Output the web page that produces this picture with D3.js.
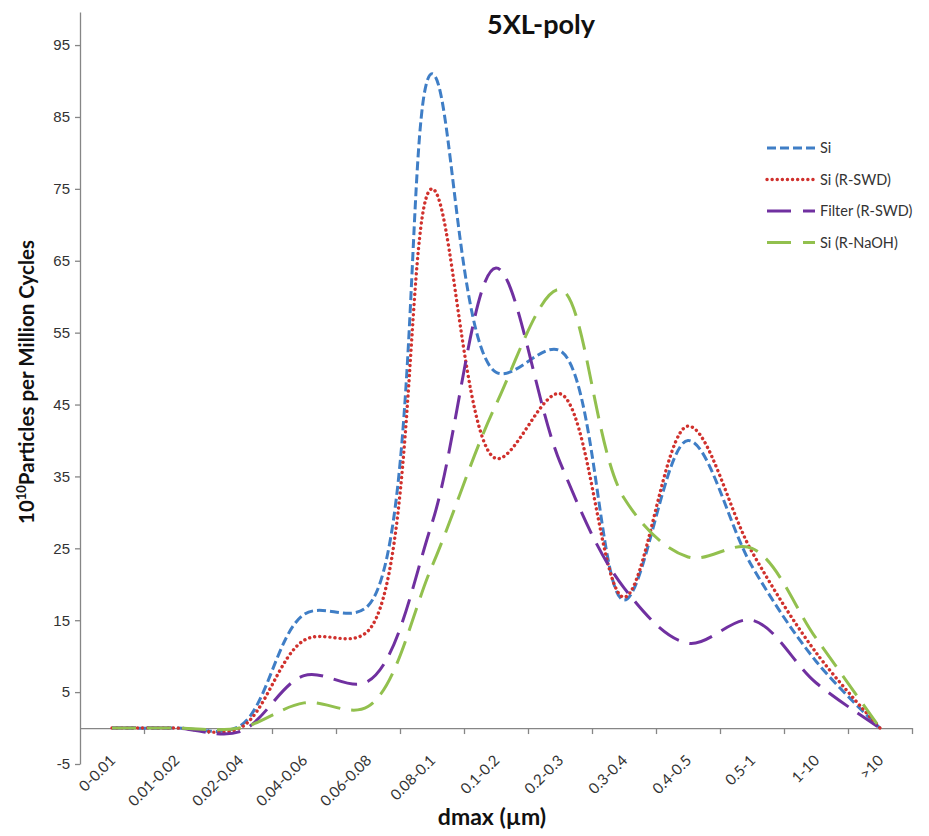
<!DOCTYPE html>
<html>
<head>
<meta charset="utf-8">
<script src="https://cdn.jsdelivr.net/npm/d3@7"></script>
<style>
  body { margin: 0; background: #fff; }
  svg { font-family: Lato, "Open Sans", sans-serif; }
</style>
</head>
<body>
<div id="chart"></div>
<script>
var categories = ['0-0.01', '0.01-0.02', '0.02-0.04', '0.04-0.06', '0.06-0.08', '0.08-0.1',
                  '0.1-0.2', '0.2-0.3', '0.3-0.4', '0.4-0.5', '0.5-1', '1-10', '>10'];
var yTicks = [-5, 5, 15, 25, 35, 45, 55, 65, 75, 85, 95];
var seriesNames = ['Si', 'Si (R-SWD)', 'Filter (R-SWD)', 'Si (R-NaOH)'];
var si       = [0, 0, 0.3, 15.8, 17, 91, 49.5, 52.5, 17.8, 40, 22.5, 9.3, 0];
var siSwd    = [0, 0, 0, 12.2, 13.5, 75, 37.5, 46.5, 18.2, 42, 24.5, 10.5, 0];
var filterSwd = [0, 0, -0.5, 7.3, 6.5, 28.5, 64, 37, 19.5, 11.8, 15, 6.3, 0];
var siNaoh   = [0, 0, 0, 3.5, 3, 22.5, 45, 61, 32, 23.8, 25, 12.5, 0];

var width = 929, height = 836;
var margin = { top: 12, right: 17, bottom: 72, left: 80 };

var svg = d3.select("#chart").append("svg")
  .attr("width", width)
  .attr("height", height);

var x = d3.scaleBand()
  .domain(categories)
  .range([margin.left, width - margin.right]);
var xEdge = d3.scaleLinear()
  .domain([0, categories.length])
  .range([margin.left, width - margin.right]);
var y = d3.scaleLinear()
  .domain([-5, 99.6])
  .range([height - margin.bottom, margin.top]);

// y axis
var yAxis = d3.axisLeft(y)
  .tickValues(yTicks)
  .tickFormat(function(d) { return String(d); })
  .tickSizeInner(5)
  .tickSizeOuter(0)
  .tickPadding(5);
var gy = svg.append("g")
  .attr("transform", "translate(" + margin.left + ",0)")
  .call(yAxis);
gy.selectAll("path, line").attr("stroke", "#868686").attr("stroke-width", 1.3);
gy.selectAll("text").attr("font-size", 15).attr("fill", "#333");

// x axis line sits at zero, ticks between categories
var xAxis = d3.axisBottom(xEdge)
  .tickValues(d3.range(1, categories.length + 1))
  .tickFormat("")
  .tickSizeInner(6)
  .tickSizeOuter(0);
var gx = svg.append("g")
  .attr("transform", "translate(0," + y(0) + ")")
  .call(xAxis);
gx.selectAll("path, line").attr("stroke", "#868686").attr("stroke-width", 1.3);

// category labels, rotated, below the plot
svg.append("g")
  .selectAll("text")
  .data(categories)
  .enter()
  .append("text")
  .attr("transform", function(d) {
    return "translate(" + (x(d) + x.bandwidth() / 2 - 3) + "," + (y(-5) - 10) + ") rotate(-45)";
  })
  .attr("text-anchor", "end")
  .attr("dy", "0.7em")
  .attr("font-size", 15)
  .attr("fill", "#333")
  .text(function(d) { return d; });

// series
var series = [
  { name: seriesNames[0], values: si, color: "#3f7ec6", dash: "9,4", cap: "butt" },
  { name: seriesNames[1], values: siSwd, color: "#d0312d", dash: "0.1,5", cap: "round" },
  { name: seriesNames[2], values: filterSwd, color: "#7030a0", dash: "24,11", cap: "butt" },
  { name: seriesNames[3], values: siNaoh, color: "#92c04e", dash: "24,11", cap: "butt" }
];

var line = d3.line()
  .x(function(d, i) { return x(categories[i]) + x.bandwidth() / 2; })
  .y(function(d) { return y(d); })
  .curve(d3.curveCatmullRom.alpha(0.5));

svg.append("g")
  .selectAll("path")
  .data(series)
  .enter()
  .append("path")
  .attr("fill", "none")
  .attr("stroke", function(d) { return d.color; })
  .attr("stroke-width", function(d) { return d.cap === "round" ? 3.4 : 3; })
  .attr("stroke-dasharray", function(d) { return d.dash; })
  .attr("stroke-linecap", function(d) { return d.cap; })
  .attr("d", function(d) { return line(d.values); });

// legend
var legend = svg.append("g")
  .selectAll("g")
  .data(series)
  .enter()
  .append("g")
  .attr("transform", function(d, i) { return "translate(767," + (148 + i * 31.5) + ")"; });
legend.append("line")
  .attr("x1", 0).attr("x2", 48)
  .attr("stroke", function(d) { return d.color; })
  .attr("stroke-width", function(d) { return d.cap === "round" ? 3.4 : 3; })
  .attr("stroke-dasharray", function(d, i) { return i >= 2 ? "24,12" : d.dash; })
  .attr("stroke-linecap", function(d) { return d.cap; });
legend.append("text")
  .attr("x", 53)
  .attr("dy", "0.35em")
  .attr("font-size", 14.5)
  .attr("fill", "#333")
  .text(function(d) { return d.name; });

// titles
svg.append("text")
  .attr("x", 541)
  .attr("y", 34)
  .attr("text-anchor", "middle")
  .attr("font-size", 27)
  .attr("font-weight", "bold")
  .attr("fill", "#111")
  .text("5XL-poly");

var ylab = svg.append("text")
  .attr("transform", "translate(34,382) rotate(-90)")
  .attr("text-anchor", "middle")
  .attr("font-size", 20.5)
  .attr("font-weight", "bold")
  .attr("fill", "#111");
ylab.append("tspan").text("10");
ylab.append("tspan").attr("font-size", 13).attr("dy", -8).text("10");
ylab.append("tspan").attr("dy", 8).text("Particles per Million Cycles");

svg.append("text")
  .attr("x", 492)
  .attr("y", 825)
  .attr("text-anchor", "middle")
  .attr("font-size", 23)
  .attr("font-weight", "bold")
  .attr("fill", "#111")
  .text("dmax (µm)");
</script>
</body>
</html>
